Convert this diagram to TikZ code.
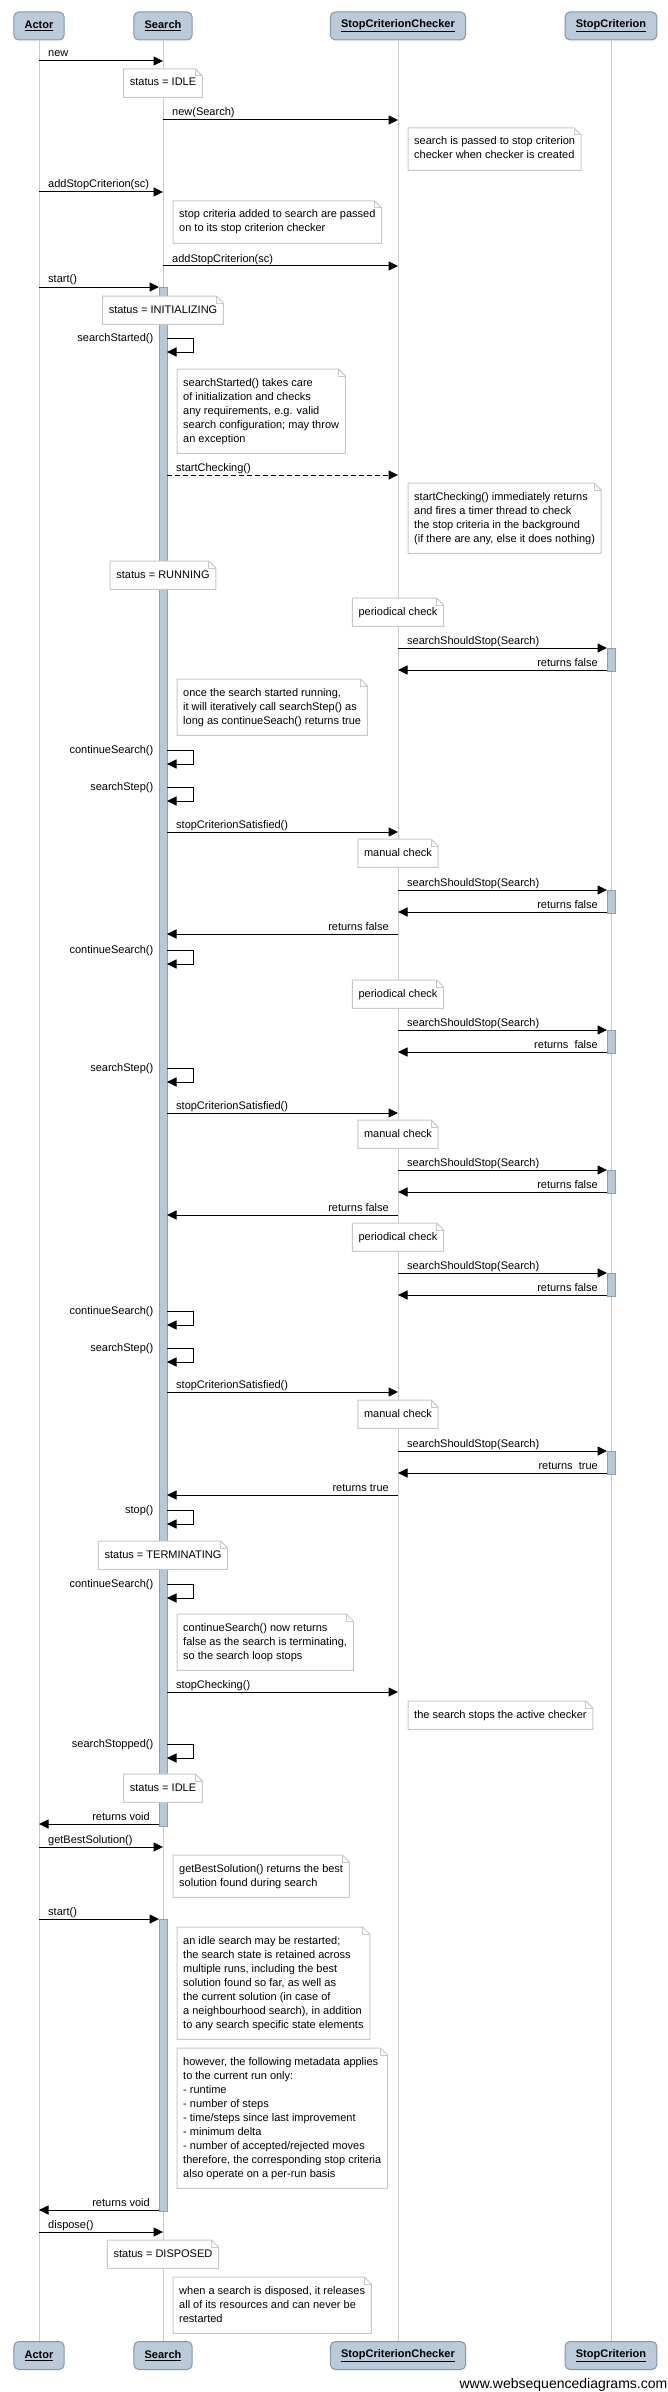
\documentclass[tikz,border=0pt]{standalone}
\usepackage{fontspec}
\setmainfont{Liberation Sans}
\usetikzlibrary{arrows.meta}
\definecolor{headfill}{RGB}{186,202,217}
\definecolor{headdraw}{RGB}{130,150,170}
\definecolor{barfill}{RGB}{183,200,216}
\definecolor{bardraw}{RGB}{140,160,180}
\definecolor{lifegray}{RGB}{204,204,204}
\definecolor{notegray}{RGB}{200,200,200}
\newcommand\notefont{\fontsize{11}{14}\selectfont}
\newcommand\NL{\\\strut}
\tikzset{
  head/.style={draw=headdraw, fill=headfill, rounded corners=5pt, line width=1pt,
    minimum height=28pt, inner xsep=10.8pt, inner ysep=0pt,
    font=\fontsize{11}{13}\selectfont\bfseries},
  lifeline/.style={draw=lifegray, line width=1pt},
  actbar/.style={draw=bardraw, fill=barfill, line width=1pt},
  msgline/.style={line width=1pt, -{Triangle[length=9.5pt,width=9pt]}},
  lbl/.style={font=\fontsize{11}{14}\selectfont, inner sep=0pt},
  notebox/.style={fill=white, inner xsep=6pt, inner ysep=7pt, align=left, font=\notefont},
  notedraw/.style={draw=notegray, line width=1pt},
}
% message left to right: [style]{name}{x1}{x2}{y}{label}
\newcommand\msgR[6][]{%
  \coordinate (#2a) at (#3,#5); \coordinate (#2b) at (#4,#5);
  \draw[msgline,#1] (#2a) -- (#2b);
  \node[lbl, anchor=base west, xshift=9pt, yshift=4pt] (#2l) at (#2a) {#6};}
% message right to left
\newcommand\msgL[6][]{%
  \coordinate (#2a) at (#3,#5); \coordinate (#2b) at (#4,#5);
  \draw[msgline,#1] (#2a) -- (#2b);
  \node[lbl, anchor=base east, xshift=-9pt, yshift=4pt] (#2l) at (#2a) {#6};}
% self message on Search: {name}{y}{label}
\newcommand\selfmsg[3]{%
  \coordinate (#1a) at (167,#2); \coordinate (#1b) at (193,#2);
  \coordinate (#1c) at (193,{#2+14}); \coordinate (#1d) at (167,{#2+14});
  \draw[msgline] (#1a) -- (#1b) -- (#1c) -- (#1d);
  \node[lbl, anchor=base east, yshift=-3pt] (#1l) at (153.5,#2) {#3};}
% note with folded corner: {name}{anchor}{position}{text}
\newcommand\mknote[4]{%
  \node[notebox, anchor=#2] (#1) at (#3) {\strut #4};
  \draw[notedraw] (#1.south west) -- (#1.north west) -- ([xshift=-7pt]#1.north east)
    -- ([yshift=-7pt]#1.north east) -- (#1.south east) -- cycle;
  \draw[notedraw] ([xshift=-7pt]#1.north east) -- ([xshift=-7pt,yshift=-7pt]#1.north east)
    -- ([yshift=-7pt]#1.north east);}
\begin{document}
\begin{tikzpicture}[x=1pt, y=-1pt, line join=miter]
\useasboundingbox (0,0) rectangle (668,2392);
\fill[white] (0,0) rectangle (668,2392);

% participants
\node[head] (hA) at (39,26) {\underline{Actor}};
\node[head] (hS) at (163,26) {\underline{Search}};
\node[head] (hC) at (398,26) {\underline{StopCriterionChecker}};
\node[head] (hK) at (611,26) {\underline{StopCriterion}};
\node[head] (bA) at (39,2355.5) {\underline{Actor}};
\node[head] (bS) at (163,2355.5) {\underline{Search}};
\node[head] (bC) at (398,2355.5) {\underline{StopCriterionChecker}};
\node[head] (bK) at (611,2355.5) {\underline{StopCriterion}};

% lifelines
\draw[lifeline] (hA.south) -- (bA.north);
\draw[lifeline] (hS.south) -- (bS.north);
\draw[lifeline] (hC.south) -- (bC.north);
\draw[lifeline] (hK.south) -- (bK.north);

% activation bars
\draw[actbar] (159,287) rectangle (167,1826);
\draw[actbar] (159,1919) rectangle (167,2211);
\foreach \t in {648,890,1030,1170,1273,1451}
  \draw[actbar] (607,\t) rectangle (615,\t+23);

% sequence
\msgR{m1}{39}{163}{61}{new}
\mknote{n1}{north}{163,69}{status = IDLE}
\msgR{m2}{163}{398}{120}{new(Search)}
\mknote{n2}{north west}{408,128}{search is passed to stop criterion\NL checker when checker is created}
\msgR{m3}{39}{163}{192}{addStopCriterion(sc)}
\mknote{n3}{north west}{173,201}{stop criteria added to search are passed\NL on to its stop criterion checker}
\msgR{m4}{163}{398}{266}{addStopCriterion(sc)}
\msgR{m5}{39}{159}{287}{start()}
\mknote{n4}{north}{163,296}{status = INITIALIZING}
\selfmsg{s1}{338}{searchStarted()}
\mknote{n5}{north west}{177,369}{searchStarted() takes care\NL of initialization and checks\NL any requirements, e.g. valid\NL search configuration; may throw\NL an exception}
\msgR[dash pattern=on 5pt off 3pt]{m6}{167}{398}{475}{startChecking()}
\mknote{n6}{north west}{408,483}{startChecking() immediately returns\NL and fires a timer thread to check\NL the stop criteria in the background\NL (if there are any, else it does nothing)}
\mknote{n7}{north}{163,561}{status = RUNNING}
\mknote{n8}{north}{398,598}{periodical check}
\msgR{m7}{398}{607}{648}{searchShouldStop(Search)}
\msgL{m8}{607}{398}{670}{returns false}
\mknote{n9}{north west}{177,679}{once the search started running,\NL it will iteratively call searchStep() as\NL long as continueSeach() returns true}
\selfmsg{s2}{750}{continueSearch()}
\selfmsg{s3}{787}{searchStep()}
\msgR{m9}{167}{398}{832}{stopCriterionSatisfied()}
\mknote{n10}{north}{398,839}{manual check}
\msgR{m10}{398}{607}{890}{searchShouldStop(Search)}
\msgL{m11}{607}{398}{912}{returns false}
\msgL{m12}{398}{167}{934}{returns false}
\selfmsg{s4}{950}{continueSearch()}
\mknote{n11}{north}{398,980}{periodical check}
\msgR{m13}{398}{607}{1030}{searchShouldStop(Search)}
\msgL{m14}{607}{398}{1052}{returns\ \ false}
\selfmsg{s5}{1068}{searchStep()}
\msgR{m15}{167}{398}{1113}{stopCriterionSatisfied()}
\mknote{n12}{north}{398,1120}{manual check}
\msgR{m16}{398}{607}{1170}{searchShouldStop(Search)}
\msgL{m17}{607}{398}{1192}{returns false}
\msgL{m18}{398}{167}{1215}{returns false}
\mknote{n13}{north}{398,1223}{periodical check}
\msgR{m19}{398}{607}{1273}{searchShouldStop(Search)}
\msgL{m20}{607}{398}{1295}{returns false}
\selfmsg{s6}{1311}{continueSearch()}
\selfmsg{s7}{1348}{searchStep()}
\msgR{m21}{167}{398}{1392}{stopCriterionSatisfied()}
\mknote{n14}{north}{398,1400}{manual check}
\msgR{m22}{398}{607}{1451}{searchShouldStop(Search)}
\msgL{m23}{607}{398}{1473}{returns\ \ true}
\msgL{m24}{398}{167}{1495}{returns true}
\selfmsg{s8}{1510}{stop()}
\mknote{n15}{north}{163,1541}{status = TERMINATING}
\selfmsg{s9}{1584}{continueSearch()}
\mknote{n16}{north west}{177,1614}{continueSearch() now returns\NL false as the search is terminating,\NL so the search loop stops}
\msgR{m25}{167}{398}{1692}{stopChecking()}
\mknote{n17}{north west}{408,1701}{the search stops the active checker}
\selfmsg{s10}{1744}{searchStopped()}
\mknote{n18}{north}{163,1774}{status = IDLE}
\msgL{m26}{159}{39}{1824}{returns void}
\msgR{m27}{39}{163}{1847}{getBestSolution()}
\mknote{n19}{north west}{173,1855}{getBestSolution() returns the best\NL solution found during search}
\msgR{m28}{39}{159}{1919}{start()}
\mknote{n20}{north west}{177,1927}{an idle search may be restarted;\NL the search state is retained across\NL multiple runs, including the best\NL solution found so far, as well as\NL the current solution (in case of\NL a neighbourhood search), in addition\NL to any search specific state elements}
\mknote{n21}{north west}{177,2048}{however, the following metadata applies\NL to the current run only:\NL - runtime\NL - number of steps\NL - time/steps since last improvement\NL - minimum delta\NL - number of accepted/rejected moves\NL therefore, the corresponding stop criteria\NL also operate on a per-run basis}
\msgL{m29}{159}{39}{2210}{returns void}
\msgR{m30}{39}{163}{2232}{dispose()}
\mknote{n22}{north}{163,2240}{status = DISPOSED}
\mknote{n23}{north west}{173,2277}{when a search is disposed, it releases\NL all of its resources and can never be\NL restarted}

\node[anchor=base east, inner sep=0pt, font=\fontsize{14}{16}\selectfont] (wsd) at (667.5,2388) {www.websequencediagrams.com};
\end{tikzpicture}
\end{document}
